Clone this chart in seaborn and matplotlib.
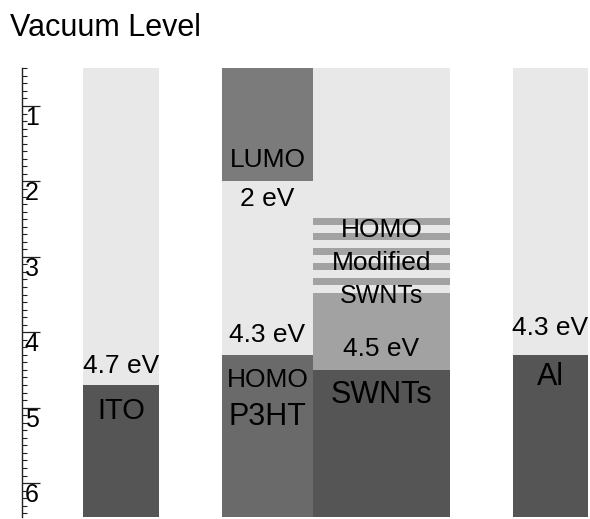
import numpy as np
import matplotlib
matplotlib.use("Agg")
import matplotlib.pyplot as plt
from matplotlib.ticker import MultipleLocator
import seaborn as sns

# =========================
# Data (energies in eV below vacuum level)
# =========================
materials = ["ITO", "P3HT", "SWNTs", "Al"]
ito_level = 4.7
al_level = 4.3
p3ht_lumo = 2.0
p3ht_homo = 4.3
swnt_level = 4.5
mod_stripes = [2.48, 2.68, 2.88, 3.08, 3.28]   # striped HOMO of modified SWNTs
mod_stripe_height = 0.1
mod_band_top = 3.48
energy_ticks = [1, 2, 3, 4, 5, 6]

# =========================
# Layout / styles
# =========================
sns.set_theme(style="white")
plt.rcParams["font.family"] = ["Liberation Sans", "DejaVu Sans"]

LIGHT = "#e8e8e8"
DARK = "#555555"
P3HT_HOMO_C = "#6a6a6a"
LUMO_C = "#7b7b7b"
MID = "#a2a2a2"

# column left edges / widths (x axis runs in pixel-like units)
col_left = {"ITO": 83, "P3HT": 222, "SWNTs": 313, "Al": 513}
col_width = {"ITO": 76, "P3HT": 91, "SWNTs": 137, "Al": 75}
ctr = {k: col_left[k] + col_width[k] / 2 for k in materials}
Y_TOP, Y_BOT = 0.5, 6.45

fig = plt.figure(figsize=(5.9, 5.19), dpi=100)
ax = fig.add_axes([22 / 590, 2 / 519, 568 / 590, 448.7 / 519])
ax.set_xlim(22, 590)
ax.set_ylim(Y_BOT, Y_TOP)


def band(name, top, bottom, color):
    ax.bar(ctr[name], bottom - top, bottom=top, width=col_width[name],
           color=color, linewidth=0, align="center")


# light background columns
for m in materials:
    band(m, 0, 7, LIGHT)

band("ITO", ito_level, 7, DARK)
band("Al", al_level, 7, DARK)
band("P3HT", 0, p3ht_lumo, LUMO_C)
band("P3HT", p3ht_homo, 7, P3HT_HOMO_C)
for s in mod_stripes:
    band("SWNTs", s, s + mod_stripe_height, MID)
band("SWNTs", mod_band_top, swnt_level, MID)
band("SWNTs", swnt_level, 7, DARK)

# =========================
# Labels
# =========================
def label(name, y, text, size):
    ax.text(ctr[name], y, text, ha="center", va="baseline",
            fontsize=size, color="black")


label("ITO", 4.54, f"{ito_level} eV", 19)
label("ITO", 5.15, "ITO", 21)
label("P3HT", 1.81, "LUMO", 19)
label("P3HT", 2.33, f"{p3ht_lumo:g} eV", 19)
label("P3HT", 4.13, f"{p3ht_homo} eV", 19)
label("P3HT", 4.72, "HOMO", 19)
label("P3HT", 5.23, "P3HT", 22)
label("SWNTs", 2.74, "HOMO", 19)
label("SWNTs", 3.17, "Modified", 19)
label("SWNTs", 3.61, "SWNTs", 18)
label("SWNTs", 4.32, f"{swnt_level} eV", 19)
label("SWNTs", 4.94, "SWNTs", 22)
label("Al", 4.04, f"{al_level} eV", 19)
label("Al", 4.70, "Al", 22)

fig.text(10 / 590, 1 - 36 / 519, "Vacuum Level", fontsize=22,
         ha="left", va="baseline", color="black")

# =========================
# Axis styling
# =========================
sns.despine(ax=ax, top=True, right=True, bottom=True, left=False)
ax.spines["left"].set_color("#222222")
ax.spines["left"].set_linewidth(1.0)
ax.set_xticks([])
ax.set_yticks(energy_ticks, labels=[str(t) for t in energy_ticks],
              ha="left", va="top")
ax.yaxis.set_minor_locator(MultipleLocator(0.1))
ax.tick_params(axis="y", which="major", direction="in", length=13,
               width=0.9, pad=-2, labelsize=18, color="#222222",
               labelcolor="black", left=True)
ax.tick_params(axis="y", which="minor", direction="in", length=3.6,
               width=0.8, color="#222222", left=True)
ax.grid(False)

fig.savefig("out.png", dpi=100)
